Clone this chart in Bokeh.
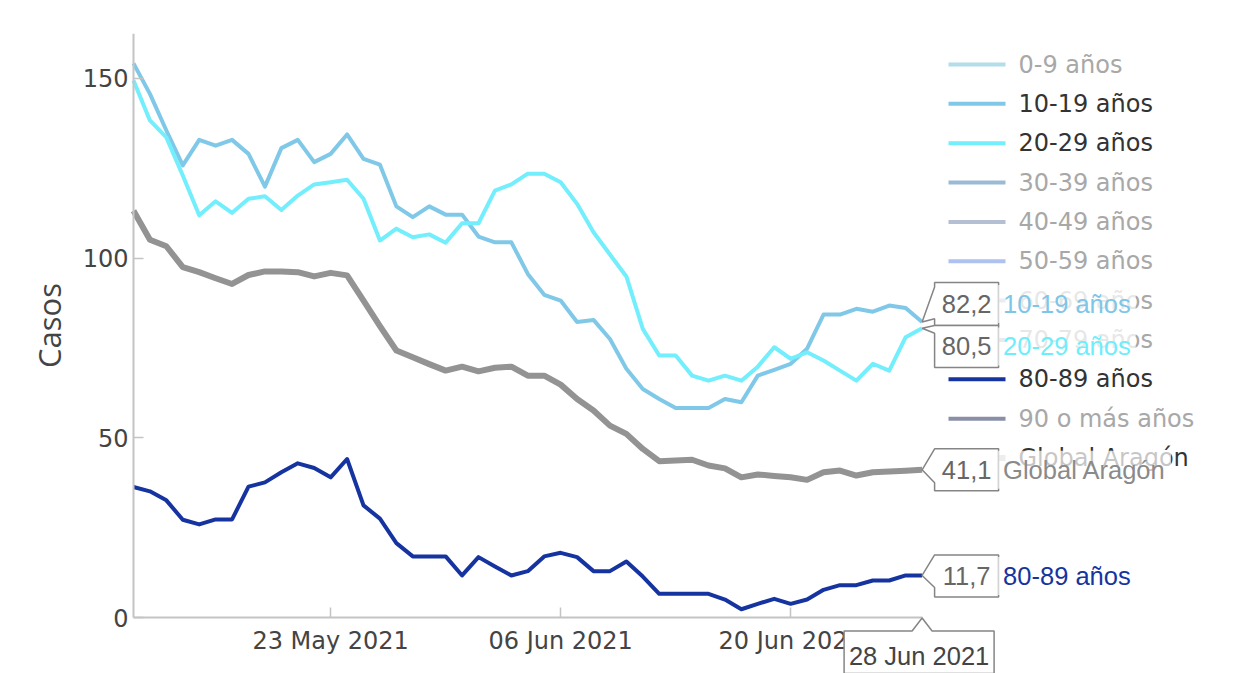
import math
import pandas as pd
from bokeh.plotting import figure
from bokeh.models import (FixedTicker, DatetimeTickFormatter, PolyAnnotation, Label,
                          Range1d, ColumnDataSource)
from bokeh.core.properties import value
from bokeh.embed import file_html
from bokeh.resources import INLINE

# ---------------- data ----------------
first_date = "2021-05-11"
last_date = "2021-06-28"
xtick_dates = ["2021-05-23", "2021-06-06", "2021-06-20"]
ytick_values = [0, 50, 100, 150]
y_title = "Casos"

casos_10_19 = [154.2, 145.7, 135.5, 125.8, 132.9, 131.3, 132.9, 129.0, 119.9, 130.6,
               132.9, 126.7, 129.0, 134.4, 127.6, 126.0, 114.4, 111.4, 114.4, 112.1,
               112.1, 106.0, 104.4, 104.4, 95.6, 89.8, 88.2, 82.2, 82.8, 77.5,
               69.2, 63.6, 60.8, 58.3, 58.3, 58.3, 60.8, 59.9, 67.3, 68.9,
               70.6, 74.8, 84.3, 84.3, 85.9, 85.1, 86.8, 86.1, 82.2]
casos_20_29 = [149.4, 138.3, 133.6, 123.0, 111.9, 115.8, 112.6, 116.5, 117.2, 113.4,
               117.4, 120.5, 121.1, 121.8, 116.5, 104.9, 108.2, 105.8, 106.6, 104.3,
               109.7, 109.7, 118.8, 120.5, 123.5, 123.5, 121.1, 115.1, 107.2, 101.0,
               94.9, 80.3, 72.9, 72.9, 67.3, 65.9, 67.3, 65.9, 69.8, 75.2,
               72.0, 73.8, 71.5, 68.7, 65.9, 70.6, 68.7, 78.0, 80.5]
casos_80_89 = [36.3, 35.1, 32.6, 27.2, 25.9, 27.3, 27.3, 36.4, 37.6, 40.4,
               42.9, 41.6, 39.0, 44.1, 31.2, 27.5, 20.7, 17.0, 17.0, 17.0,
               11.7, 16.8, 14.2, 11.7, 12.9, 17.0, 18.0, 16.8, 12.9, 12.9,
               15.6, 11.4, 6.6, 6.6, 6.6, 6.6, 5.0, 2.3, 3.8, 5.2,
               3.8, 5.0, 7.7, 9.0, 9.0, 10.3, 10.3, 11.7, 11.7]
casos_global = [113.2, 105.1, 103.3, 97.5, 96.1, 94.4, 92.8, 95.3, 96.3, 96.3,
                96.1, 94.9, 95.9, 95.2, 88.2, 81.1, 74.3, 72.4, 70.5, 68.7,
                69.8, 68.5, 69.5, 69.8, 67.3, 67.3, 64.8, 60.8, 57.6, 53.4,
                51.1, 46.9, 43.5, 43.7, 43.9, 42.3, 41.5, 39.0, 39.8, 39.4,
                39.0, 38.3, 40.4, 40.9, 39.5, 40.4, 40.6, 40.8, 41.1]

series_names = ["0-9 años", "10-19 años", "20-29 años", "30-39 años", "40-49 años",
                "50-59 años", "60-69 años", "70-79 años", "80-89 años",
                "90 o más años", "Global Aragón"]
series_colors = ["#b3dde9", "#80c8e8", "#72eefc", "#9cbad6", "#b4bfd4",
                 "#adc2f0", "#b4bcd8", "#a9b2cc", "#1634a0", "#8a8fa8", "#bdbdbd"]
series_visible = [False, True, True, False, False, False, False, False, True, False, True]
series_values = {"10-19 años": casos_10_19, "20-29 años": casos_20_29,
                 "80-89 años": casos_80_89, "Global Aragón": casos_global}
line_colors = {"10-19 años": "#80c8e8", "20-29 años": "#72eefc",
               "80-89 años": "#1634a0", "Global Aragón": "#939393"}

# ---------------- geometry / scales ----------------
W, H = 1254, 673
AXIS_X = 133                      # pixel column of the y axis
FRAME_T = 33
ZERO_Y = 617                      # pixel row of y = 0
DAY_PX = 788.6 / 48.0
Y_MAX = 162.5
Y_PX = (ZERO_Y - FRAME_T) / Y_MAX
Y_MIN = -(H - ZERO_Y) / Y_PX
MS_DAY = 86400000.0

dates = pd.date_range(first_date, last_date, freq="D")
def to_ms(d):
    return (pd.Timestamp(d) - pd.Timestamp("1970-01-01")).total_seconds() * 1000.0
x_start = to_ms(first_date)
x_last = to_ms(last_date)
x_lo = x_start - AXIS_X / DAY_PX * MS_DAY
x_hi = x_start + (W - AXIS_X) / DAY_PX * MS_DAY

def dx(px):
    return px / DAY_PX * MS_DAY
def dy(px_down):
    return -px_down / Y_PX
def px_x(px):            # absolute pixel column -> data x
    return x_start + dx(px - AXIS_X)
def px_y(py):            # absolute pixel row -> data y
    return dy(py - ZERO_Y)

p = figure(width=W, height=H, x_axis_type="datetime", output_backend="svg",
           toolbar_location=None, x_range=Range1d(x_lo, x_hi),
           y_range=Range1d(Y_MIN, Y_MAX),
           min_border_left=0, min_border_right=0, min_border_top=FRAME_T,
           min_border_bottom=0)
p.outline_line_color = None
p.grid.visible = False
p.background_fill_color = "white"
p.border_fill_color = "white"

axis_col = "#c4c4c4"
for ax in (p.xaxis[0], p.yaxis[0]):
    ax.axis_line_color = axis_col
    ax.axis_line_width = 2
    ax.major_tick_line_color = axis_col
    ax.major_tick_line_width = 1.5
    ax.major_tick_in = 10
    ax.major_tick_out = 0
    ax.minor_tick_line_color = None
    ax.major_label_text_font = "DejaVu Sans"
    ax.major_label_text_font_size = "24px"
    ax.major_label_text_color = "#444444"

p.xaxis.fixed_location = 0
p.xaxis.bounds = (x_start, x_last)
p.xaxis.ticker = FixedTicker(ticks=[to_ms(d) for d in xtick_dates])
fmt = "%d %b %Y"
p.xaxis.formatter = DatetimeTickFormatter(days=fmt, months=fmt, years=fmt, hours=fmt,
                                          hourmin=fmt, minutes=fmt, minsec=fmt,
                                          seconds=fmt, milliseconds=fmt, microseconds=fmt)
p.xaxis.major_label_standoff = 9

p.yaxis.fixed_location = x_start
p.yaxis.bounds = (0, Y_MAX)
p.yaxis.ticker = FixedTicker(ticks=ytick_values)
p.yaxis.major_label_standoff = 5

# ---------------- lines ----------------
for name in series_names:
    vals = series_values.get(name)
    if vals is None:
        continue          # hidden traces (legend only)
    lw = 6 if name == "Global Aragón" else 4
    p.line(x=dates, y=vals, line_color=line_colors[name], line_width=lw, line_join="round")

# ---------------- legend (drawn as glyphs so the callouts can cover it) ----------------
leg_rows = [64 + 39.35 * i for i in range(len(series_names))]
leg_src = ColumnDataSource(dict(
    x0=[px_x(948)] * len(series_names),
    x1=[px_x(1005)] * len(series_names),
    xt=[px_x(1018)] * len(series_names),
    y=[px_y(r) for r in leg_rows],
    name=series_names,
    color=series_colors,
    width=[6 if n == "Global Aragón" else 4 for n in series_names],
    tcolor=["#333333" if v else "#a8a8a8" for v in series_visible],
))
p.segment(x0="x0", y0="y", x1="x1", y1="y", line_color="color", line_width="width",
          source=leg_src)
p.text(x="xt", y="y", text="name", text_color="tcolor", text_baseline="middle",
       text_align="left", text_font=value("DejaVu Sans"), text_font_size="24px",
       source=leg_src)

# y axis title, centred on the axis line
p.add_layout(Label(x=px_x(48), y=Y_MAX / 2.0, text=y_title, angle=math.pi / 2,
                   text_align="center", text_baseline="middle", text_font="Open Sans",
                   text_font_size="31px", text_color="#444444"))

# ---------------- end-of-line callouts ----------------
def callout(tip_x, tip_y, pts):
    xs = [tip_x + dx(a) for a, b in pts]
    ys = [tip_y + dy(b) for a, b in pts]
    p.add_layout(PolyAnnotation(xs=xs, ys=ys, fill_color="white", fill_alpha=1.0,
                                line_color="#858585", line_alpha=1.0, line_width=1.5,
                                level="overlay"))

def text_label(x, y, txt, align, color, bg=None):
    lab = Label(x=x, y=y, text=txt, text_align=align, text_baseline="middle",
                text_font="Liberation Sans", text_font_size="25.5px", text_color=color,
                level="overlay")
    if bg is not None:
        lab.background_fill_color = bg
        lab.background_fill_alpha = 0.72
        lab.padding = 5
    p.add_layout(lab)

# (top, bottom, pointer-base top, pointer-base bottom) in px relative to the tip, y downwards
shapes = {
    "10-19 años": (-39.6, 3.4, -35.0, -3.3),
    "20-29 años": (-2.7, 39.3, -2.7, 5.0),
    "Global Aragón": (-21.0, 21.0, -21.0, 13.0),
    "80-89 años": (-20.5, 21.5, -20.5, 12.0),
}
L, R = 12.5, 76.5
name_col = {"10-19 años": "#7ec6e8", "20-29 años": "#6eeefc",
            "80-89 años": "#1634a0", "Global Aragón": "#8a8a8a"}
for name, (top, bot, pb1, pb2) in shapes.items():
    v = series_values[name][-1]
    pts = [(0, 0), (L, pb1), (L, top), (R, top), (R, bot), (L, bot), (L, pb2), (0, 0)]
    callout(x_last, v, pts)
    mid = (top + bot) / 2.0
    text_label(x_last + dx((L + R) / 2.0), v + dy(mid),
               f"{v:.1f}".replace(".", ","), "center", "#666666")
    text_label(x_last + dx(R - 0.5), v + dy(mid), name, "left", name_col[name], bg="white")

# date callout under the x axis
date_pts = [(0, 0.5), (10, 13.5), (72, 13.5), (72, 56), (-78, 56), (-78, 13.5), (-10, 13.5), (0, 0.5)]
callout(x_last, 0, date_pts)
text_label(x_last + dx(-3), dy(38), dates[-1].strftime("%d %b %Y"), "center", "#444444")

open("out.html", "w").write(file_html(p, INLINE))
